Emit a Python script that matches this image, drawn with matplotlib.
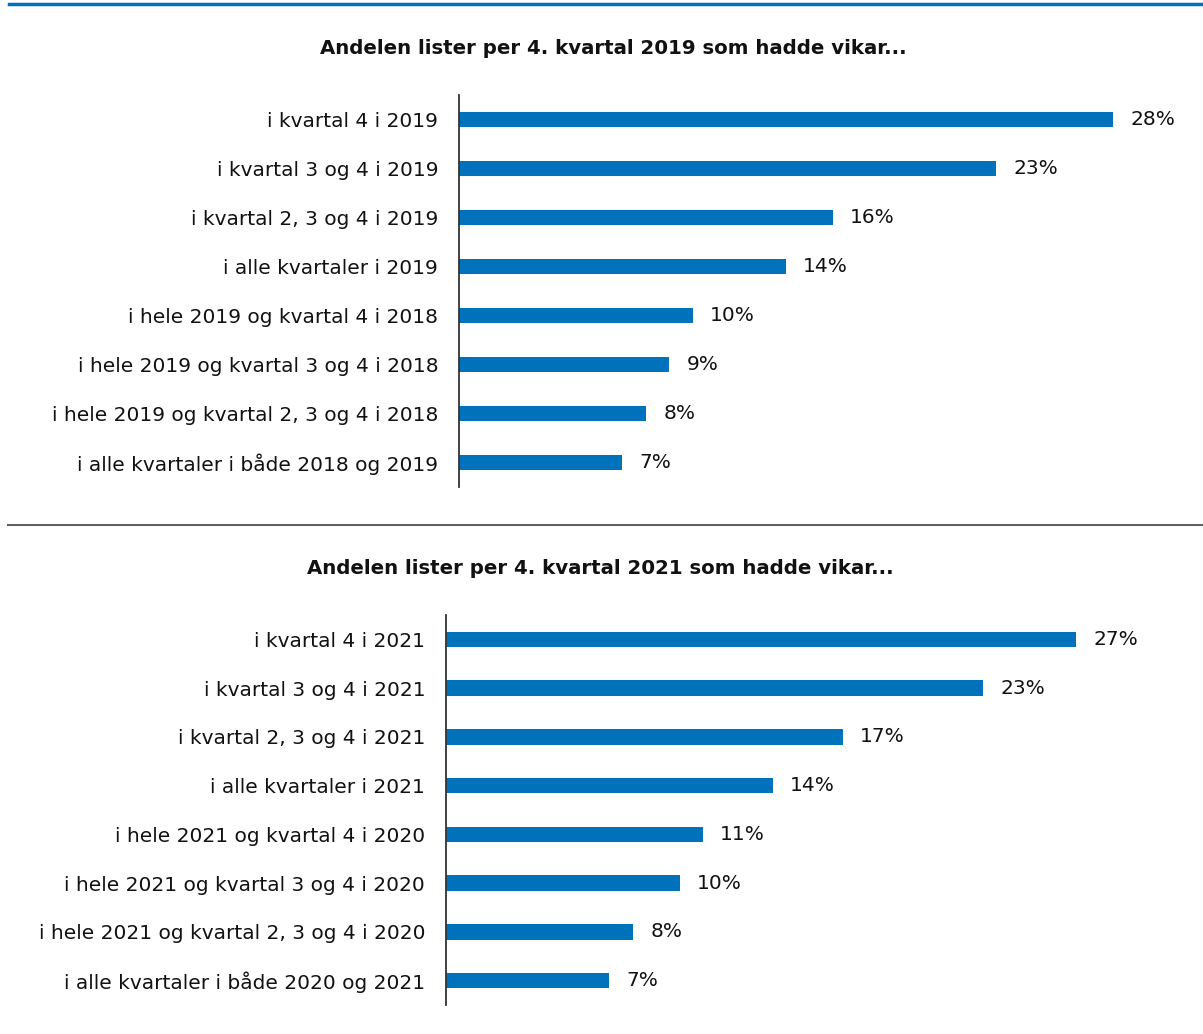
import matplotlib.pyplot as plt
from matplotlib.lines import Line2D

# --- data ---
labels_2019 = ["i kvartal 4 i 2019", "i kvartal 3 og 4 i 2019", "i kvartal 2, 3 og 4 i 2019",
               "i alle kvartaler i 2019", "i hele 2019 og kvartal 4 i 2018",
               "i hele 2019 og kvartal 3 og 4 i 2018", "i hele 2019 og kvartal 2, 3 og 4 i 2018",
               "i alle kvartaler i både 2018 og 2019"]
values_2019 = [28, 23, 16, 14, 10, 9, 8, 7]

labels_2021 = ["i kvartal 4 i 2021", "i kvartal 3 og 4 i 2021", "i kvartal 2, 3 og 4 i 2021",
               "i alle kvartaler i 2021", "i hele 2021 og kvartal 4 i 2020",
               "i hele 2021 og kvartal 3 og 4 i 2020", "i hele 2021 og kvartal 2, 3 og 4 i 2020",
               "i alle kvartaler i både 2020 og 2021"]
values_2021 = [27, 23, 17, 14, 11, 10, 8, 7]

title_2019 = "Andelen lister per 4. kvartal 2019 som hadde vikar..."
title_2021 = "Andelen lister per 4. kvartal 2021 som hadde vikar..."

BLUE = "#0072bb"
W, H = 1203, 1034
PX_PER_PCT = 23.35

plt.rcParams['font.family'] = ['DejaVu Sans']

fig = plt.figure(figsize=(W / 100, H / 100), dpi=100)


def panel(left_px, top_px, bottom_px, labels, values, title, title_cx, title_y):
    width_px = W - left_px
    ax = fig.add_axes([left_px / W, (H - bottom_px) / H, width_px / W, (bottom_px - top_px) / H])
    y = list(range(len(values)))
    ax.barh(y, values, height=0.32, color=BLUE)
    ax.set_xlim(0, width_px / PX_PER_PCT)
    ax.set_ylim(len(values) - 0.5, -0.5)
    ax.set_yticks(y)
    ax.set_yticklabels(labels, fontsize=14.5, color="#111111")
    ax.tick_params(axis='y', length=0, pad=15)
    ax.set_xticks([])
    for s in ['top', 'right', 'bottom']:
        ax.spines[s].set_visible(False)
    ax.spines['left'].set_color('#333333')
    ax.spines['left'].set_linewidth(1.3)
    for yi, v in zip(y, values):
        ax.annotate(f"{v}%", (v, yi), xytext=(12.5, 0), textcoords='offset points',
                    va='center', ha='left', fontsize=14.5, color="#111111")
    fig.text(title_cx / W, 1 - title_y / H, title, ha='center', va='center',
             fontsize=14.2, fontweight='bold', color="#111111")
    return ax


panel(459, 95, 487, labels_2019, values_2019, title_2019, 613, 49)
panel(446, 615, 1005, labels_2021, values_2021, title_2021, 600, 568)

# decorative lines
fig.add_artist(Line2D([9 / W, 1], [1 - 4 / H, 1 - 4 / H], color=BLUE, lw=2.5, transform=fig.transFigure))
fig.add_artist(Line2D([8 / W, 1], [1 - 525 / H, 1 - 525 / H], color="#606060", lw=1.5, transform=fig.transFigure))

fig.savefig("out.png", dpi=100)
